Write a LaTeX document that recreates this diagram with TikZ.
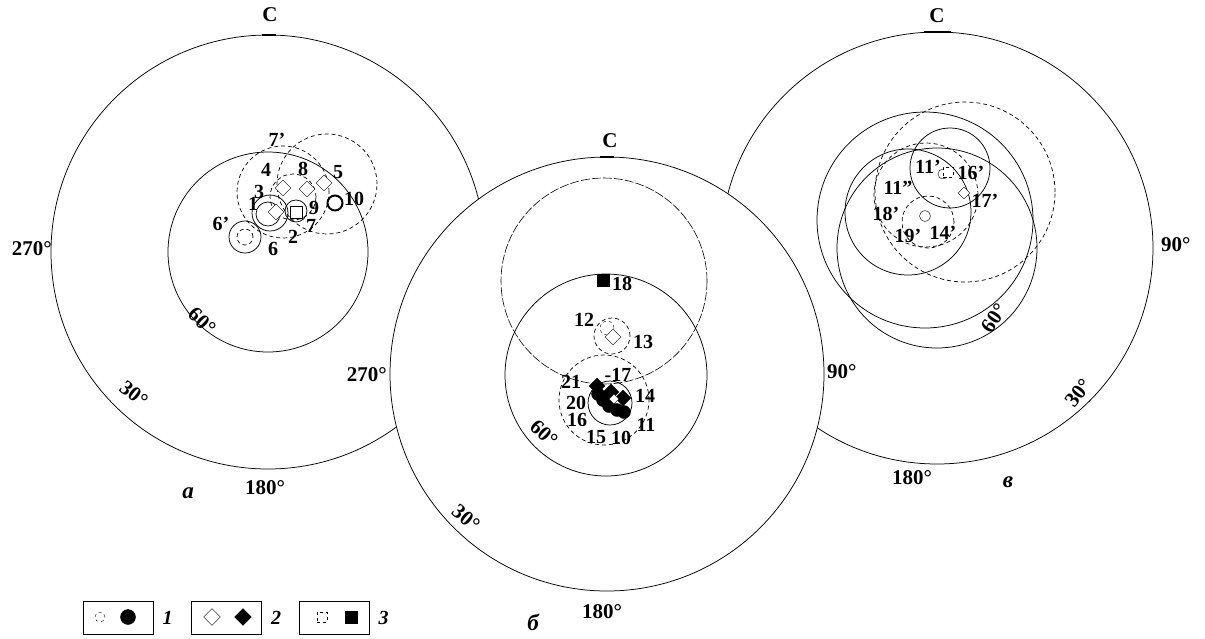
\documentclass[tikz,border=0pt]{standalone}
\usepackage{fontspec}
\setmainfont{Liberation Serif}
\usetikzlibrary{positioning,shapes.geometric}

\begin{document}
\begin{tikzpicture}[x=1pt,y=-1pt,
ring/.style={draw,line width=0.75pt},
dring/.style={draw,line width=0.7pt,dash pattern=on 4pt off 3pt},
lring/.style={draw,line width=0.6pt,dash pattern=on 9pt off 2pt},
deg/.style={font=\bfseries\fontsize{21}{21}\selectfont,inner sep=0pt},
num/.style={font=\bfseries\fontsize{20}{20}\selectfont,inner sep=0pt},
panel/.style={font=\bfseries\itshape\fontsize{23}{23}\selectfont,inner sep=0pt},
odot/.style={circle,draw,fill=white,inner sep=0pt,minimum size=11pt},
fdot/.style={circle,draw,fill=black,inner sep=0pt,minimum size=13pt},
odia/.style={diamond,draw,fill=white,inner sep=0pt,minimum size=16pt},
fdia/.style={diamond,draw,fill=black,inner sep=0pt,minimum size=16pt},
osq/.style={rectangle,draw,fill=white,inner sep=0pt,minimum size=12pt},
fsq/.style={rectangle,draw,fill=black,inner sep=0pt,minimum size=12pt},
legbox/.style={draw,line width=1pt,minimum width=70pt,minimum height=33pt,inner sep=0pt}]

\useasboundingbox (0,0) rectangle (1205,638);

% panel a
\draw[ring] (268,252) circle (217pt);
\draw[ring] (268,252) circle (100pt);
\draw[line width=2pt] (262,35) -- (276,35);
\node[deg] (aN) at (270,15) {С};
\node[deg,anchor=east] (aW) at (52,249) {270°};
\node[deg] (aS) at (265,488) {180°};
\node[deg,rotate=-38] (a30) at (134,394) {30°};
\node[deg,rotate=-44] (a60) at (202,321) {60°};
\node[panel] (aP) at (188,493) {а};

\draw[dring] (283,192) circle (46pt);
\draw[dring] (327,184) circle (50pt);
\draw[dring] (293,197) circle (23pt);
\draw[ring] (270,213) circle (18pt);
\draw[ring] (268,214) circle (12pt);
\draw[ring] (296,211) circle (11pt);
\draw[ring] (245,237) circle (16pt);
\draw[dring] (245,237) circle (8pt);
\node[odia] (a4) at (283,188) {};
\node[odia] (a8) at (307,189) {};
\node[odia] (a5) at (324,183) {};
\node[odia] (a1) at (276,212) {};
\node[osq] (a9) at (296,212) {};
\node[odot,line width=2pt,minimum size=15pt] (a10) at (335,203) {};

\node[num] (l7p) at (277,140) {7'};
\node[num] (l4) at (266,170) {4};
\node[num] (l8) at (303,169) {8};
\node[num] (l5) at (338,172) {5};
\node[num] (l3) at (259,192) {3};
\node[num] (l1) at (253,204) {1};
\node[num] (l9) at (314,208) {9};
\node[num] (l10) at (354,199) {10};
\node[num] (l7) at (311,226) {7};
\node[num] (l2) at (293,237) {2};
\node[num] (l6p) at (221,224) {6'};
\node[num] (l6) at (273,249) {6};

% panel v
\draw[ring] (937,248) circle (216pt);
\draw[line width=2pt] (924,32) -- (951,32);
\draw[ring] (937,248) circle (100pt);
\draw[ring] (925,220) circle (108pt);
\draw[ring] (908,212) circle (63pt);
\draw[ring] (950,168) circle (40pt);
\draw[dring] (965,192) circle (90pt);
\draw[dring] (926,195) circle (52pt);
\draw[dring] (928,222) circle (26pt);
\node[odot,minimum size=10pt] (v11) at (943,174) {};
\node[osq,dashed,minimum size=10pt] (v16) at (948,172) {};
\node[odia,minimum size=12pt] (v17) at (964,193) {};
\node[odot] (v19) at (925,216) {};

\node[deg] (vN) at (937,16) {С};
\node[deg,anchor=west] (vE) at (1161,245) {90°};
\node[deg] (vS) at (912,478) {180°};
\node[deg,rotate=52] (v30) at (1078,393) {30°};
\node[deg,rotate=56] (v60) at (994,318) {60°};
\node[panel] (vP) at (1008,482) {в};

\node[num] (m11p) at (928,167) {11'};
\node[num] (m16p) at (971,173) {16'};
\node[num] (m11pp) at (898,188) {11''};
\node[num] (m17p) at (985,201) {17'};
\node[num] (m18p) at (886,214) {18'};
\node[num] (m19p) at (908,236) {19'};
\node[num] (m14p) at (943,233) {14'};

% panel b (on top)
\draw[ring,fill=white] (607,374) circle (217pt);
\draw[line width=1.4pt] (600,157) -- (614,157);
\draw[ring] (606,375) circle (101pt);
\draw[lring] (604,281) circle (103pt);
\draw[dring] (612,336) circle (18pt);
\draw[dring] (604,400) circle (45pt);
\draw[ring] (610,403) circle (22pt);
\node[fsq] (b18) at (603,280) {};
\node[odot,dashed,minimum size=14pt] (b12) at (607,328) {};
\node[odia] (b13) at (613,337) {};
\node[fdia] (b21) at (597,386) {};
\node[fdot] (b20) at (598,394) {};
\node[fdot] (b16) at (603,400) {};
\node[fdia] (b17) at (611,392) {};
\node[fdot] (b15) at (609,406) {};
\node[fdot] (b10) at (617,410) {};
\node[fdot] (b11) at (624,412) {};
\node[fdia] (b14) at (623,398) {};
\node[odia,minimum size=10pt] (b19) at (614,399) {};

\node[deg] (bN) at (610,141) {С};
\node[deg,anchor=east] (bW) at (387,375) {270°};
\node[deg,anchor=west] (bE) at (827,372) {90°};
\node[deg] (bS) at (602,612) {180°};
\node[deg,rotate=-40] (b30) at (466,518) {30°};
\node[deg,rotate=-43] (b60) at (544,433) {60°};
\node[panel] (bP) at (533,622) {б};

\node[num] (n18) at (622,284) {18};
\node[num] (n12) at (584,320) {12};
\node[num] (n13) at (643,342) {13};
\node[num] (n17) at (618,375) {-17};
\node[num] (n21) at (571,382) {21};
\node[num] (n14) at (645,396) {14};
\node[num] (n20) at (576,403) {20};
\node[num] (n16) at (577,420) {16};
\node[num] (n11) at (646,425) {11};
\node[num] (n15) at (596,437) {15};
\node[num] (n10) at (621,438) {10};

% legend
\node[legbox] (box1) at (118,617.5) {};
\node[legbox] (box2) at (226.5,617.5) {};
\node[legbox] (box3) at (334,617.5) {};
\node[odot,dashed,minimum size=10pt] at (100,617) {};
\node[fdot,minimum size=15pt] at (128,617) {};
\node[odia,minimum size=17pt] at (212,617) {};
\node[fdia,minimum size=17pt] at (243,617) {};
\node[osq,dashed,minimum size=10pt] at (322,617) {};
\node[fsq,minimum size=12pt] at (351,617) {};
\node[panel,font=\bfseries\itshape\fontsize{20}{20}\selectfont,right=9pt of box1] (leg1) {1};
\node[panel,font=\bfseries\itshape\fontsize{20}{20}\selectfont,right=9pt of box2] (leg2) {2};
\node[panel,font=\bfseries\itshape\fontsize{20}{20}\selectfont,right=9pt of box3] (leg3) {3};
\end{tikzpicture}
\end{document}
